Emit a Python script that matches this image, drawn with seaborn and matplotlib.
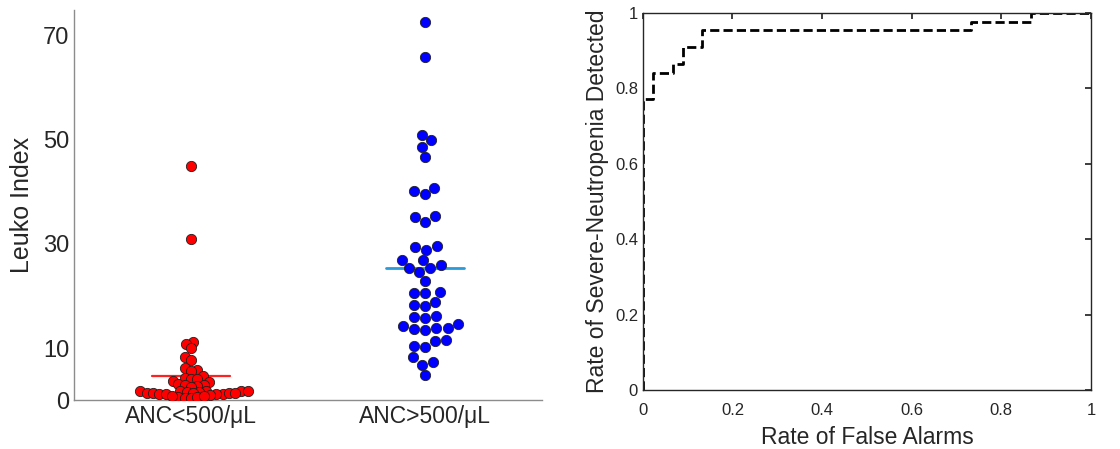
"""
Leuko index by ANC group (swarm) and ROC curve for severe neutropenia detection
"""

import numpy as np
import pandas as pd
import matplotlib
matplotlib.use("Agg")
import matplotlib.pyplot as plt
import seaborn as sns

# Leuko index values
anc_low = [44.9, 30.9, 11.1, 10.7, 10.0, 8.3, 7.7, 6.2, 5.75, 5.6,
           4.6, 4.2, 4.0, 4.0, 3.6, 3.5, 3.0, 2.9, 2.9, 2.7, 2.6,
           1.8, 1.7, 1.7, 1.6, 1.8, 1.7, 1.6,
           1.3, 1.2, 1.3, 1.2, 1.4, 1.3, 1.2, 1.1, 1.3,
           0.9, 0.6, 0.4, 0.3, 0.5, 0.7, 0.8]
anc_high = [72.7, 66.0, 51.0, 49.9, 48.7, 46.7, 40.8, 40.1, 39.6, 35.3, 35.2, 34.2,
            29.4, 29.6, 28.9, 26.9, 27.0, 25.9, 25.4, 25.3, 24.6, 22.8,
            20.6, 20.5, 20.8, 18.9, 18.2, 18.0, 16.1, 15.7, 16.0, 14.6,
            14.2, 13.9, 13.8, 13.7, 13.4, 11.3, 11.5, 10.4, 10.2,
            8.2, 7.3, 6.8, 4.8]
groups = ["ANC<500/\u03bcL", "ANC>500/\u03bcL"]
group_colors = ["#ff0000", "#0000ff"]
mean_colors = ["#ff2020", "#2a9ad8"]
# dot size used only for the swarm layout (the red pile overlaps in the original)
layout_sizes = [3.8, 7.2]

# ROC curve vertices (false alarm rate, detection rate)
fpr = [0, 0, 0.022, 0.022, 0.067, 0.067, 0.089, 0.089, 0.133, 0.133,
       0.733, 0.733, 0.867, 0.867, 1.0]
tpr = [0, 0.773, 0.773, 0.841, 0.841, 0.864, 0.864, 0.909, 0.909, 0.955,
       0.955, 0.977, 0.977, 1.0, 1.0]

sns.set_theme(style="white")
plt.rcParams["font.family"] = ["Liberation Sans", "DejaVu Sans"]

fig = plt.figure(figsize=(11.2, 4.49), dpi=100)
ax1 = fig.add_axes([0.066, 0.109, 0.418, 0.869])
ax2 = fig.add_axes([0.574, 0.131, 0.400, 0.840])

# left panel: one swarm per group
for i, vals in enumerate([anc_low, anc_high]):
    sub = pd.DataFrame({"group": [groups[i]] * len(vals), "leuko": vals})
    sns.swarmplot(data=sub, x="group", y="leuko", order=groups,
                  color=group_colors[i], size=layout_sizes[i],
                  edgecolor="#202020", linewidth=0.6, ax=ax1)
ax1.set_xlim(-0.5, 1.5)
ax1.set_ylim(0, 75)
fig.canvas.draw()
for c in ax1.collections:
    if "draw" in c.__dict__:
        del c.draw  # freeze the swarm layout
    c.set_sizes([7.4 ** 2])

for i, vals in enumerate([anc_low, anc_high]):
    m = np.mean(vals)
    ax1.plot([i - 0.165, i + 0.165], [m, m], color=mean_colors[i],
             lw=1.6 if i == 0 else 2.0, zorder=1)

ax1.set_yticks([0, 10, 30, 50, 70])
ax1.set_xlabel("")
ax1.set_ylabel("Leuko Index", fontsize=18, color="#262626", labelpad=6)
ax1.tick_params(axis="y", direction="in", length=4, labelsize=17,
                colors="#808080", labelcolor="#262626")
ax1.tick_params(axis="x", direction="in", length=3, labelsize=16.5,
                colors="#808080", labelcolor="#262626")
for s in ["top", "right"]:
    ax1.spines[s].set_visible(False)
for s in ["left", "bottom"]:
    ax1.spines[s].set_color("#8c8c8c")
    ax1.spines[s].set_linewidth(1.0)

# right panel: ROC
sns.lineplot(x=fpr, y=tpr, estimator=None, sort=False, color="black",
             lw=2.0, ax=ax2)
ax2.lines[0].set_dashes([3.3, 1.5])
ax2.set_xlim(0, 1)
ax2.set_ylim(0, 1)
ticks = [0, 0.2, 0.4, 0.6, 0.8, 1]
ax2.set_xticks(ticks)
ax2.set_yticks(ticks)
ax2.set_xticklabels(["0", "0.2", "0.4", "0.6", "0.8", "1"])
ax2.set_yticklabels(["0", "0.2", "0.4", "0.6", "0.8", "1"])
ax2.set_xlabel("Rate of False Alarms", fontsize=16.5, color="#262626",
               labelpad=6)
ax2.set_ylabel("Rate of Severe-Neutropenia Detected", fontsize=16.5,
               color="#262626", labelpad=4)
ax2.tick_params(direction="in", length=4, labelsize=12, top=True, right=True,
                colors="#262626")
ax2.tick_params(axis="x", pad=9)
for s in ax2.spines.values():
    s.set_color("#262626")
    s.set_linewidth(1.0)
    s.set_visible(True)

fig.savefig("out.png", dpi=100)
